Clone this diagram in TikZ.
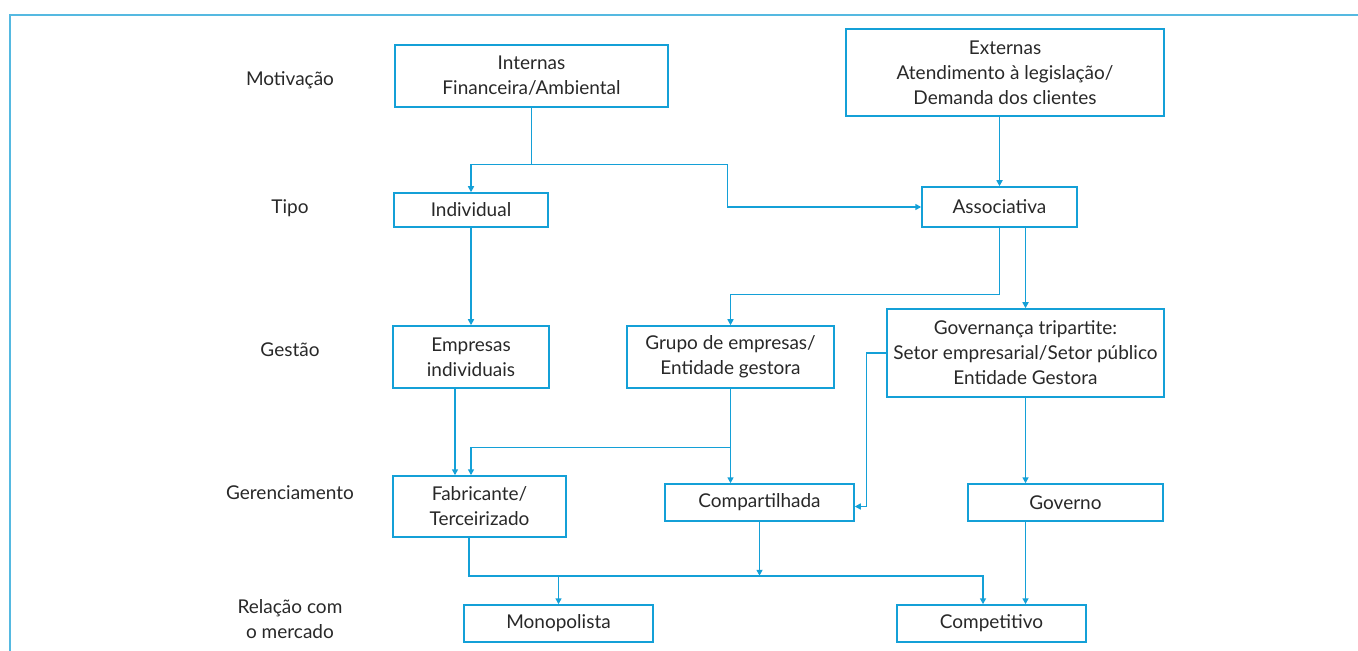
\documentclass[tikz,border=0pt]{standalone}
\usepackage{fontspec}
\setmainfont{Lato}
\usepackage{tikz}
\usetikzlibrary{
  arrows.meta,
  positioning,
  calc
}
\definecolor{lineblue}{RGB}{20,160,215}
\definecolor{frameblue}{RGB}{85,185,225}
\definecolor{textgray}{RGB}{40,40,40}

\begin{document}
\begin{tikzpicture}[x=0.5pt, y=-0.5pt,
            font=\fontsize{9.5}{12.5}\selectfont, text=textgray,
            box/.style={rectangle, draw=lineblue, line width=0.75pt, align=center, inner sep=0pt},
            rowlabel/.style={align=center, inner sep=0pt},
            arr/.style={draw=lineblue, line width=0.75pt, -{Triangle[length=3pt,width=3pt]}}]
            \useasboundingbox (0,0) rectangle (1358,651);
            % frame
            \draw[frameblue, line width=1pt] (10,651) -- (10,15) -- (1358,15);
            % row labels
            \node [rowlabel] (lmotiv) at (290,80) {Motivação};
            \node [rowlabel] (ltipo) at (290,208) {Tipo};
            \node [rowlabel] (lgestao) at (290,350) {Gestão};
            \node [rowlabel] (lgerenc) at (290,493) {Gerenciamento};
            \node [rowlabel] (lrelacao) at (290,619) {Relação com\\o mercado};
            % boxes
            \node [box, minimum width=136.5pt, minimum height=31pt] (intern) at (531.5,76) {Internas\\Financeira/Ambiental};
            \node [box, minimum width=159pt, minimum height=43.5pt] (extern) at (1005,72.5) {Externas\\Atendimento à legislação/\\Demanda dos clientes};
            \node [box, minimum width=77pt, minimum height=17pt] (indiv) at (471,210) {Individual};
            \node [box, minimum width=77.5pt, minimum height=20pt] (assoc) at (999.5,207) {Associativa};
            \node [box, minimum width=78pt, minimum height=31pt] (empind) at (471,357) {Empresas\\individuais};
            \node [box, minimum width=103.5pt, minimum height=31pt] (grupo) at (730.5,357) {Grupo de empresas/\\Entidade gestora};
            \node [box, minimum width=138.5pt, minimum height=44pt] (gov3) at (1025.5,353) {Governança tripartite:\\Setor empresarial/Setor público\\Entidade Gestora};
            \node [box, minimum width=86.5pt, minimum height=30.5pt] (fabr) at (479.5,506.5) {Fabricante/\\Terceirizado};
            \node [box, minimum width=94.5pt, minimum height=18.5pt] (compart) at (759.5,502.5) {Compartilhada};
            \node [box, minimum width=97.5pt, minimum height=18.5pt] (governo) at (1065.5,502.5) {Governo};
            \node [box, minimum width=94.5pt, minimum height=18.5pt] (mono) at (558.5,623.5) {Monopolista};
            \node [box, minimum width=94.5pt, minimum height=18.5pt] (compet) at (991.5,623.5) {Competitivo};
            % motivation to type
            \draw [lineblue, line width=0.75pt] (intern.south) -- ++(0,57) coordinate (split1);
            \draw [arr] (split1) -| (indiv.north);
            \draw [arr] (split1) -| ([xshift=-97pt]assoc.west) |- (assoc.west);
            \draw [arr] (extern.south -| assoc.north) -- (assoc.north);
            % type to management
            \draw [arr] (indiv.south) -- (empind.north);
            \draw [arr] (assoc.south) -- ++(0,67) -| (grupo.north);
            \draw [arr] (assoc.south -| gov3.north) -- (gov3.north);
            % management to operation
            \draw [arr] ([xshift=-8pt]empind.south) coordinate (e1) -- (e1 |- fabr.north);
            \draw [arr] (grupo.south) -- ++(0,59) coordinate (g1) -- (g1 |- compart.north);
            \draw [arr] (g1) -| ([xshift=-4.25pt]fabr.north);
            \draw [arr] (gov3.west) -- ++(-20,0) |- ([yshift=-2pt]compart.east);
            \draw [arr] (gov3.south) -- (gov3.south |- governo.north);
            % operation to market
            \draw [arr] ([xshift=-5.25pt]fabr.south) -- ++(0,38) coordinate (bus) -| ([xshift=-4.25pt]compet.north);
            \draw [arr] (bus -| mono.north) -- (mono.north);
            \draw [arr] (compart.south) -- (compart.south |- bus);
            \draw [arr] (gov3.south |- governo.south) -- (gov3.south |- compet.north);
        \end{tikzpicture}
\end{document}
